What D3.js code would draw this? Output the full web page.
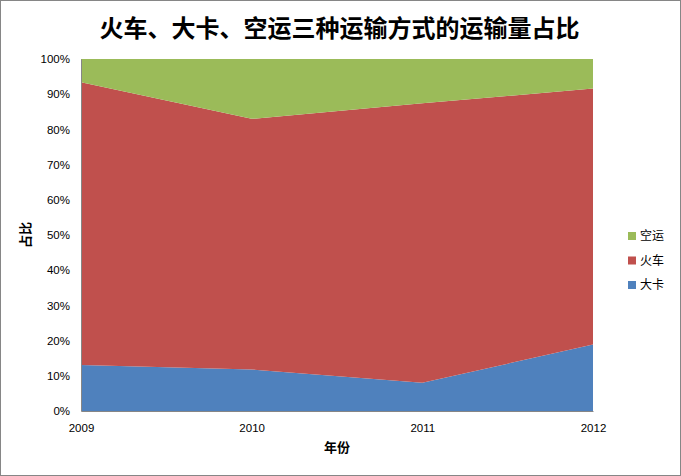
<!DOCTYPE html>
<html><head><meta charset="utf-8">
<script src="https://cdn.jsdelivr.net/npm/d3@7"></script>
<style>
html,body{margin:0;padding:0;background:#fff;}
svg{display:block;}
</style></head>
<body>
<svg id="chart" width="681" height="476"></svg>
<script>
const years = ["2009", "2010", "2011", "2012"];
const truck = [13.1, 11.8, 8.0, 18.9];   // 大卡
const train = [80.3, 71.2, 79.4, 72.7];  // 火车
const air   = [6.6, 17.0, 12.6, 8.4];    // 空运
const seriesNames = ["大卡", "火车", "空运"];
const seriesColors = ["#4F81BD", "#C0504D", "#9BBB59"];
const yTicks = [0, 0.1, 0.2, 0.3, 0.4, 0.5, 0.6, 0.7, 0.8, 0.9, 1.0];
const title = "火车、大卡、空运三种运输方式的运输量占比";
const xTitle = "年份";
const yTitle = "占比";

const svg = d3.select("#chart");
const W = 681, H = 476;
const m = {left: 81, right: 88, top: 59, bottom: 65};
const pw = W - m.left - m.right, ph = H - m.top - m.bottom;

svg.append("rect").attr("x", 0.5).attr("y", 0.5).attr("width", W - 1).attr("height", H - 1)
  .attr("fill", "#fff").attr("stroke", "#868686");

const rows = years.map((y, i) => ({year: y, "大卡": truck[i], "火车": train[i], "空运": air[i]}));
const stacked = d3.stack().keys(seriesNames).offset(d3.stackOffsetExpand)(rows);

const x = d3.scalePoint().domain(years).range([m.left, m.left + pw]);
const yS = d3.scaleLinear().domain([0, 1]).range([m.top + ph, m.top]);

const area = d3.area().x(d => x(d.data.year)).y0(d => yS(d[0])).y1(d => yS(d[1]));
svg.append("g").selectAll("path").data(stacked).join("path")
  .attr("d", area).attr("fill", (d, i) => seriesColors[i]);

// axes
const tickFont = "'Liberation Sans', Arial, sans-serif";
const yAxis = d3.axisLeft(yS).tickValues(yTicks).tickFormat(d3.format(".0%")).tickSize(0).tickPadding(11);
const gy = svg.append("g").attr("transform", `translate(${m.left},0)`).call(yAxis);
gy.select(".domain").attr("stroke", "#868686");
gy.selectAll("text").attr("font-family", tickFont).attr("font-size", 11.5).attr("fill", "#000");

const xAxis = d3.axisBottom(x).tickSize(0).tickPadding(13);
const gx = svg.append("g").attr("transform", `translate(0,${m.top + ph})`).call(xAxis);
gx.select(".domain").attr("stroke", "#868686");
gx.selectAll("text").attr("font-family", tickFont).attr("font-size", 11.5).attr("fill", "#000");

// titles
svg.append("text").attr("x", 339.5).attr("y", 37).attr("text-anchor", "middle")
  .attr("font-family", "'Noto Sans CJK SC', sans-serif").attr("font-weight", "bold")
  .attr("font-size", 24).attr("fill", "#000").text(title);
svg.append("text").attr("x", 337).attr("y", 452).attr("text-anchor", "middle")
  .attr("font-family", "'Noto Sans CJK SC', sans-serif").attr("font-weight", "bold")
  .attr("font-size", 13).attr("fill", "#000").text(xTitle);
svg.append("text").attr("transform", "translate(30,235) rotate(-90)").attr("text-anchor", "middle")
  .attr("font-family", "'Noto Sans CJK SC', sans-serif").attr("font-weight", "bold")
  .attr("font-size", 13).attr("fill", "#000").text(yTitle);

// legend (top to bottom: 空运, 火车, 大卡)
const legendOrder = [2, 1, 0];
const lg = svg.append("g");
legendOrder.forEach((si, k) => {
  const yy = 232 + k * 24.5;
  lg.append("rect").attr("x", 628).attr("y", yy).attr("width", 8).attr("height", 8).attr("fill", seriesColors[si]);
  lg.append("text").attr("x", 640).attr("y", yy + 8).attr("font-family", "'Noto Sans CJK SC', sans-serif")
    .attr("font-size", 12).attr("fill", "#000").text(seriesNames[si]);
});
</script>
</body></html>
